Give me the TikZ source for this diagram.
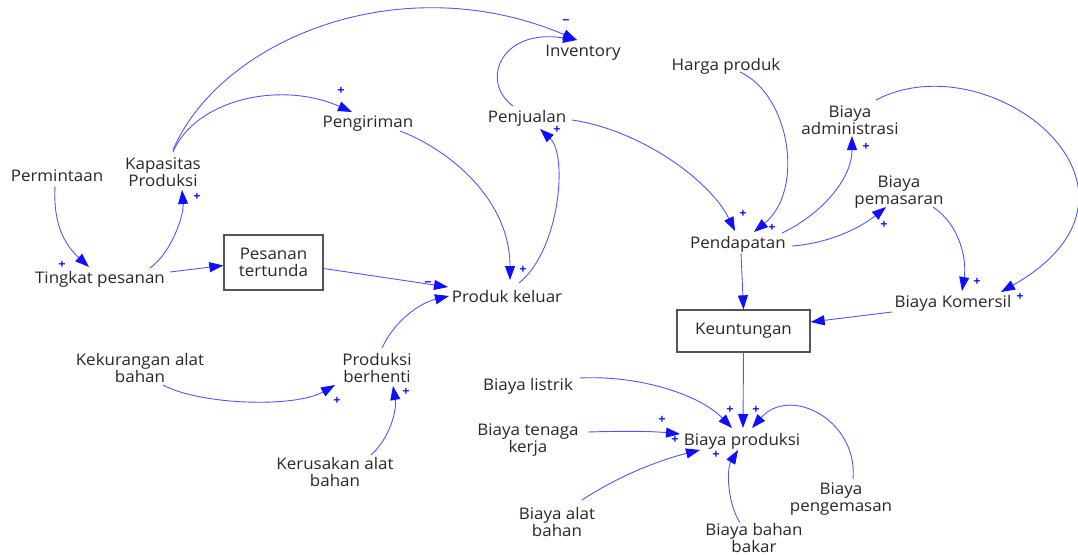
\documentclass[tikz,border=0pt]{standalone}
\usepackage{fontspec}
\setmainfont{Open Sans}[FakeStretch=1.06]
\usetikzlibrary{arrows.meta,calc}
\definecolor{lk}{RGB}{85,85,255}
\definecolor{tipc}{RGB}{15,15,255}
\definecolor{txt}{RGB}{45,38,38}
\definecolor{bx}{RGB}{85,85,85}
\tikzset{
  var/.style={font=\fontsize{16}{17}\selectfont, text=txt, align=center, inner sep=1pt},
  box/.style={var, draw=bx, line width=1.3pt, inner sep=0pt},
  lnk/.style={draw=lk, line width=0.9pt, -{Triangle[length=14pt,width=10pt,color=tipc]}},
  pol/.style={font=\fontsize{12}{12}\selectfont\bfseries, text=tipc, inner sep=0pt},
}
\begin{document}
\begin{tikzpicture}[x=1pt,y=-1pt]
\useasboundingbox (0,0) rectangle (1078,554);
\fill[white] (0,0) rectangle (1078,554);

% variables
\node[var] (perm) at (57,176) {Permintaan};
\node[var] (kap) at (163,172) {Kapasitas\\Produksi};
\node[var] (ting) at (100,279) {Tingkat pesanan};
\node[box, minimum width=99pt, minimum height=55pt] (pes) at (273.5,262.5) {Pesanan\\tertunda};
\node[var] (peng) at (368,124) {Pengiriman};
\node[var] (inv) at (583,53) {Inventory};
\node[var] (penj) at (527,118) {Penjualan};
\node[var] (prod) at (507,296) {Produk keluar};
\node[var] (harga) at (726,66) {Harga produk};
\node[var] (adm) at (850,120) {Biaya\\administrasi};
\node[var] (pem) at (899,192) {Biaya\\pemasaran};
\node[var] (pend) at (738,244) {Pendapatan};
\node[var] (kom) at (953,303) {Biaya Komersil};
\node[box, minimum width=133pt, minimum height=42pt] (keu) at (743.5,331) {Keuntungan};
\node[var] (kek) at (140,368) {Kekurangan alat\\bahan};
\node[var] (pb) at (377,368) {Produksi\\berhenti};
\node[var] (ker) at (335,472) {Kerusakan alat\\bahan};
\node[var] (lis) at (528,386) {Biaya listrik};
\node[var] (ten) at (528,440) {Biaya tenaga\\kerja};
\node[var] (bp) at (742,441) {Biaya produksi};
\node[var] (kem) at (841,499) {Biaya\\pengemasan};
\node[var] (alat) at (557,522) {Biaya alat\\bahan};
\node[var] (bakar) at (754,537.5) {Biaya bahan\\bakar};

% links
\draw[lnk] ($(perm)+(-2,10)$) .. controls (53,225) and (65,245) .. ($(ting)+(-11,-12)$);
\draw[lnk] ($(ting)+(50,-11)$) .. controls (172,252) and (184,215) .. ($(kap)+(19,18)$);
\draw[lnk] ($(ting)+(70,-7)$) -- ($(pes.west)+(0,3)$);
\draw[lnk] ($(kap)+(10,-20)$) .. controls (195,100) and (280,80) .. ($(peng)+(-16,-12)$);
\draw[lnk] ($(kap)+(10,-22)$) .. controls (220,40) and (400,-35) .. ($(inv)+(-6,-13)$);
\draw[lnk] ($(penj)+(-14,-12)$) .. controls (480,82) and (500,28) .. ($(inv)+(-6,-13)$);
\draw[lnk] ($(peng)+(32,7)$) .. controls (450,150) and (510,200) .. ($(prod)+(3,-16)$);
\draw[lnk] ($(prod)+(12,-13)$) .. controls (560,250) and (568,155) .. ($(penj)+(13,11)$);
\draw[lnk] ($(pes.east)+(0,6)$) -- ($(prod)+(-59,-9)$);
\draw[lnk] ($(pb)+(5,-20)$) .. controls (395,320) and (420,303) .. ($(prod)+(-58,0)$);
\draw[lnk] ($(kek)+(23,17)$) .. controls (200,405) and (295,408) .. ($(pb)+(-42,17)$);
\draw[lnk] ($(ker)+(36,-17)$) .. controls (390,438) and (397,410) .. ($(pb)+(16,18)$);
\draw[lnk] ($(penj)+(45,2)$) .. controls (640,130) and (710,180) .. ($(pend)+(-3,-13)$);
\draw[lnk] ($(harga)+(14,6)$) .. controls (790,95) and (805,190) .. ($(pend)+(16,-12)$);
\draw[lnk] ($(pend)+(44,-11)$) .. controls (820,215) and (852,180) .. ($(adm)+(2,16)$);
\draw[lnk] ($(pend)+(54,2)$) .. controls (830,243) and (860,228) .. ($(pem)+(-13,15)$);
\draw[lnk] ($(pend.south)+(3,0)$) -- (keu.north);
\draw[lnk] ($(pem)+(34,15)$) .. controls (960,225) and (967,260) .. ($(kom)+(9,-12)$);
\draw[lnk] ($(adm)+(26,-20)$) .. controls (990,40) and (1180,190) .. ($(kom)+(48,-11)$);
\draw[lnk] ($(kom)+(-61,9)$) -- ($(keu.east)+(0,-9)$);
\draw[lnk] (keu.south) -- ($(bp)+(1,-13)$);
\draw[lnk] ($(lis)+(52,-8)$) .. controls (640,375) and (700,395) .. ($(bp)+(-10,-13)$);
\draw[lnk] ($(ten)+(60,-8)$) .. controls (620,431) and (650,431) .. ($(bp)+(-62,-7)$);
\draw[lnk] ($(alat)+(25,-22)$) .. controls (620,475) and (660,460) .. ($(bp)+(-42,9)$);
\draw[lnk] ($(bakar)+(-14,-15)$) .. controls (728,505) and (726,470) .. ($(bp)+(-4,9)$);
\draw[lnk] ($(kem)+(12,-20)$) .. controls (858,420) and (790,385) .. ($(bp)+(10,-13)$);

% polarities
\node[pol] (s1) at (62,265) {+};
\node[pol] (s2) at (197,197) {+};
\node[pol] (s3) at (341,91) {+};
\node[pol] (s4) at (566,22) {−};
\node[pol] (s5) at (557,130) {+};
\node[pol] (s6) at (523,270) {+};
\node[pol] (s7) at (428,284) {−};
\node[pol] (s8) at (743,214) {+};
\node[pol] (s9) at (772,228) {+};
\node[pol] (s10) at (866,147) {+};
\node[pol] (s11) at (884,225) {+};
\node[pol] (s12) at (977,282) {+};
\node[pol] (s13) at (1020,297) {+};
\node[pol] (s14) at (337,401) {+};
\node[pol] (s15) at (406,392) {+};
\node[pol] (s16) at (730,410) {+};
\node[pol] (s17) at (756,410) {+};
\node[pol] (s18) at (662,420) {+};
\node[pol] (s19) at (675,440) {+};
\node[pol] (s20) at (716,455) {+};
\end{tikzpicture}
\end{document}
